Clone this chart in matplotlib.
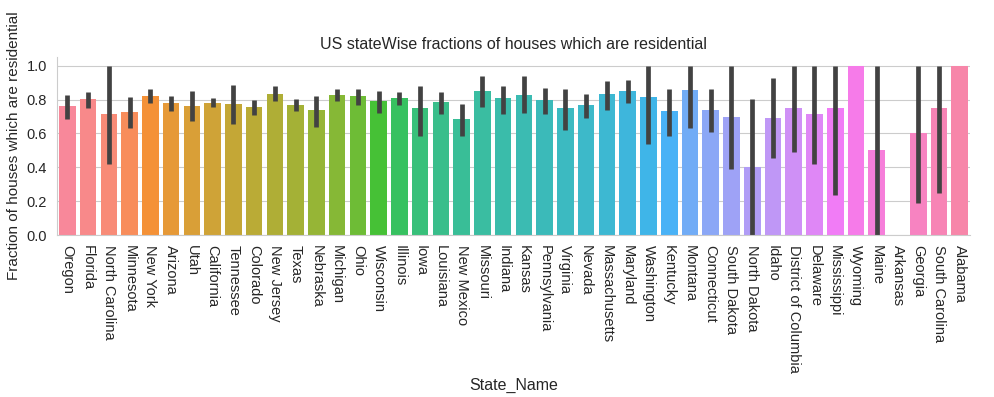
import numpy as np
import matplotlib
matplotlib.use("Agg")
import matplotlib.pyplot as plt
import seaborn as sns

states = ["Oregon", "Florida", "North Carolina", "Minnesota", "New York", "Arizona",
          "Utah", "California", "Tennessee", "Colorado", "New Jersey", "Texas",
          "Nebraska", "Michigan", "Ohio", "Wisconsin", "Illinois", "Iowa", "Louisiana",
          "New Mexico", "Missouri", "Indiana", "Kansas", "Pennsylvania", "Virginia",
          "Nevada", "Massachusetts", "Maryland", "Washington", "Kentucky", "Montana",
          "Connecticut", "South Dakota", "North Dakota", "Idaho", "District of Columbia",
          "Delaware", "Mississippi", "Wyoming", "Maine", "Arkansas", "Georgia",
          "South Carolina", "Alabama"]

fraction = [0.762, 0.804, 0.714, 0.726, 0.819, 0.782, 0.762, 0.782, 0.776, 0.756,
            0.833, 0.766, 0.736, 0.827, 0.819, 0.792, 0.808, 0.750, 0.786, 0.687,
            0.849, 0.808, 0.827, 0.798, 0.750, 0.766, 0.833, 0.849, 0.817, 0.734,
            0.855, 0.738, 0.696, 0.400, 0.690, 0.750, 0.714, 0.750, 1.000, 0.500,
            0.000, 0.600, 0.750, 1.000]

ci_low = [0.683, 0.752, 0.417, 0.633, 0.780, 0.734, 0.671, 0.758, 0.655, 0.706,
          0.794, 0.734, 0.639, 0.792, 0.766, 0.722, 0.768, 0.583, 0.714, 0.585,
          0.758, 0.716, 0.720, 0.716, 0.621, 0.690, 0.738, 0.782, 0.536, 0.583,
          0.633, 0.611, 0.391, 0.000, 0.456, 0.490, 0.417, 0.238, np.nan, 0.000,
          np.nan, 0.188, 0.250, np.nan]

ci_high = [0.827, 0.845, 1.000, 0.817, 0.865, 0.821, 0.849, 0.810, 0.885, 0.798,
           0.879, 0.802, 0.821, 0.865, 0.861, 0.851, 0.845, 0.881, 0.845, 0.776,
           0.938, 0.881, 0.938, 0.869, 0.865, 0.833, 0.911, 0.917, 1.000, 0.861,
           1.000, 0.865, 1.000, 0.802, 0.929, 1.000, 1.000, 1.000, np.nan, 1.000,
           np.nan, 1.000, 1.000, np.nan]

sns.set_style("whitegrid")
plt.rcParams['font.family'] = ['Liberation Sans', 'DejaVu Sans']

fig = plt.figure(figsize=(9.94, 3.97), dpi=100)
ax = fig.add_axes([0.0573, 0.408, 0.9187, 0.448])

x = np.arange(len(states))
colors = sns.husl_palette(len(states), h=0.01, s=0.9, l=0.7)
ax.bar(x, fraction, width=0.8, color=colors, edgecolor="none")
ax.vlines(x, ci_low, ci_high, color="#424242", lw=3.4)

ax.set_xlim(-0.5, len(states) - 0.5)
ax.set_ylim(0, 1.05)
ax.set_yticks([0, 0.2, 0.4, 0.6, 0.8, 1.0])
ax.set_xticks(x)
ax.set_xticklabels(states, rotation=270, fontsize=10.5, color="#262626")
ax.tick_params(axis="y", labelsize=10.5, labelcolor="#262626",
               length=3, width=0.8, color="#cccccc", pad=4)
ax.xaxis.grid(False)
sns.despine(ax=ax)

ax.set_title("US stateWise fractions of houses which are residential", fontsize=11.5, color="#262626")
ax.set_xlabel("State_Name", fontsize=11.5, color="#262626")
ax.set_ylabel("Fraction of houses which are residential", fontsize=11, color="#262626")

fig.savefig("out.png", dpi=100)
